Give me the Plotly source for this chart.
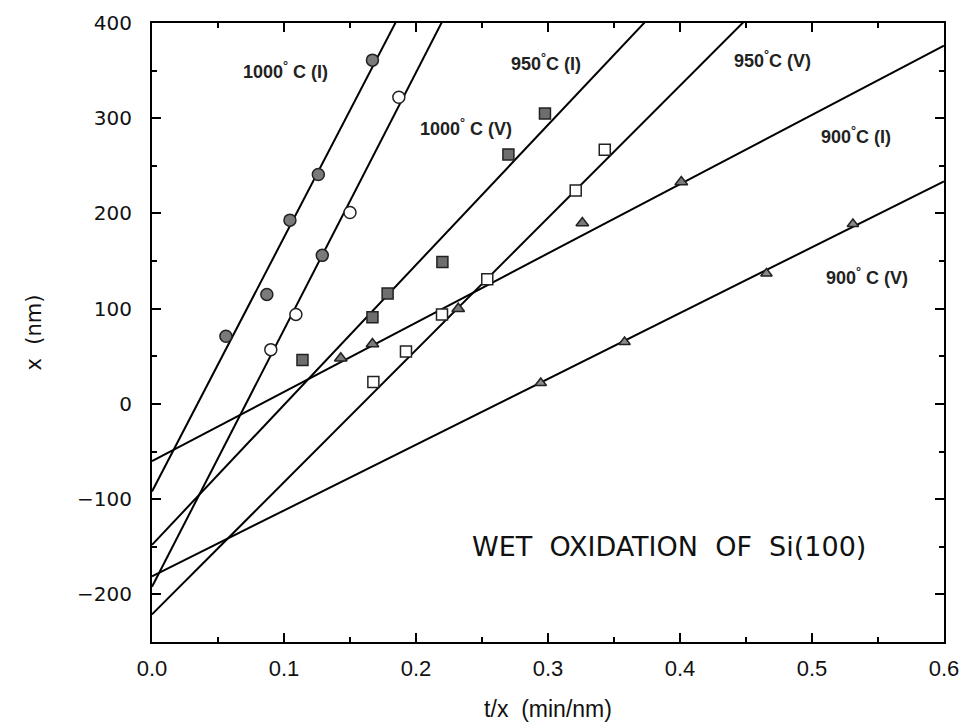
import plotly.graph_objects as go

# ---- data ----
# 1000 C (I): filled circles
x_1000I = [0.056, 0.087, 0.1045, 0.126, 0.167]
y_1000I = [71, 115, 193, 241, 361]
# 1000 C (V): open circles (one grey)
x_1000V = [0.090, 0.109, 0.129, 0.150, 0.187]
y_1000V = [57, 94, 156, 201, 322]
fill_1000V = ["white", "white", "#7a7a7a", "white", "white"]
# 950 C (I): filled squares
x_950I = [0.114, 0.167, 0.1785, 0.220, 0.270, 0.2977]
y_950I = [46, 91, 116, 149, 262, 305]
# 950 C (V): open squares
x_950V = [0.1677, 0.1924, 0.2197, 0.254, 0.321, 0.343]
y_950V = [23, 55, 94, 131, 224, 267]
# 900 C (I): filled triangles
x_900I = [0.143, 0.167, 0.232, 0.326, 0.401]
y_900I = [48, 63, 100, 190, 233]
# 900 C (V): triangles
x_900V = [0.2945, 0.358, 0.4655, 0.531]
y_900V = [22, 65, 137, 189]

# fitted lines: intercept and slope
line_names = ["1000I", "1000V", "950I", "950V", "900I", "900V"]
intercepts = [-92, -192, -148, -221, -60, -181]
slopes = [2669, 2700, 1470, 1388, 727, 691]

# labels
label_texts = ["1000<sup>°</sup> C (I)", "1000<sup>°</sup> C (V)", "950<sup>°</sup>C (I)",
               "950<sup>°</sup>C (V)", "900<sup>°</sup>C (I)", "900<sup>°</sup> C (V)"]
label_x = [0.1015, 0.238, 0.2985, 0.4697, 0.533, 0.5414]
label_y = [350, 290, 359, 362, 282, 134]

x_ticks = [0.0, 0.1, 0.2, 0.3, 0.4, 0.5, 0.6]
x_ticklabels = ["0.0", "0.1", "0.2", "0.3", "0.4", "0.5", "0.6"]
y_ticks = [-200, -100, 0, 100, 200, 300, 400]
y_ticklabels = ["−200", "−100", "0", "100", "200", "300", "400"]

fig = go.Figure()

line_x = [0.0, 0.6]
for b, m in zip(intercepts, slopes):
    fig.add_trace(go.Scatter(x=line_x, y=[b + m * xx for xx in line_x], mode="lines",
                             line=dict(color="black", width=2), showlegend=False,
                             hoverinfo="skip"))

def pts(x, y, symbol, fill, size=12):
    fig.add_trace(go.Scatter(x=x, y=y, mode="markers", showlegend=False,
                             marker=dict(symbol=symbol, size=size, color=fill,
                                         line=dict(color="#222", width=1.5))))

pts(x_1000I, y_1000I, "circle", "#7a7a7a")
pts(x_1000V, y_1000V, "circle", fill_1000V)
pts(x_950I, y_950I, "square", "#6e6e6e", size=11)
pts(x_950V, y_950V, "square", "white", size=11)
pts(x_900I, y_900I, "triangle-up", "#7a7a7a", size=11)
pts(x_900V, y_900V, "triangle-up", "#8a8a8a", size=10)

for t, lx, ly in zip(label_texts, label_x, label_y):
    fig.add_annotation(x=lx, y=ly, text="<b>" + t + "</b>", showarrow=False,
                       font=dict(family="Liberation Sans", size=18, color="#222"))

fig.add_annotation(x=0.392, y=-150, text="WET  OXIDATION  OF  Si(100)", showarrow=False,
                   font=dict(family="DejaVu Sans", size=27, color="#111"))

fig.update_xaxes(range=[0, 0.6], tickvals=x_ticks, ticktext=x_ticklabels,
                 ticks="inside", ticklen=9, tickwidth=2, tickcolor="black",
                 minor=dict(dtick=0.05, ticks="inside", ticklen=5, tickwidth=2, tickcolor="black"),
                 showline=True, linecolor="black", linewidth=2, mirror="ticks",
                 showgrid=False, zeroline=False, ticklabelstandoff=6,
                 tickfont=dict(family="Liberation Sans Narrow, Liberation Sans", size=22, color="#111"),
                 title=dict(text="t/x  (min/nm)", standoff=20,
                            font=dict(family="Liberation Sans Narrow, Liberation Sans", size=23, color="#111")))
fig.update_yaxes(range=[-250, 400], tickvals=y_ticks, ticktext=y_ticklabels,
                 ticks="inside", ticklen=9, tickwidth=2, tickcolor="black",
                 minor=dict(dtick=50, ticks="inside", ticklen=5, tickwidth=2, tickcolor="black"),
                 showline=True, linecolor="black", linewidth=2, mirror="ticks",
                 showgrid=False, zeroline=False, ticklabelstandoff=14,
                 tickfont=dict(family="DejaVu Sans", size=20, color="#111"),
                 title=dict(text="x  (nm)", standoff=30,
                            font=dict(family="DejaVu Sans", size=21, color="#111")))

fig.update_layout(width=971, height=727, plot_bgcolor="white", paper_bgcolor="white",
                  margin=dict(l=144, r=35, t=15, b=93, autoexpand=False))

fig.write_html("out.html")
